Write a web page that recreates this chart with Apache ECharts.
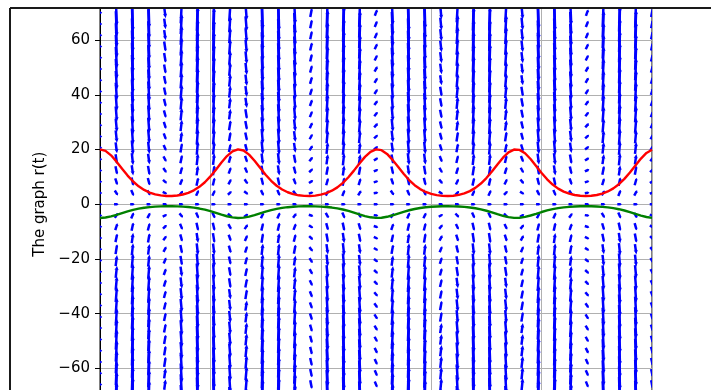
<!DOCTYPE html>
<html>
<head>
<meta charset="utf-8">
<script src="https://cdn.jsdelivr.net/npm/echarts@6/dist/echarts.min.js"></script>
<style>
	html, body { margin: 0; padding: 0; background: #ffffff; overflow: hidden; }
	#container { position: absolute; left: 0; top: -40px; width: 711px; height: 480px; }
</style>
</head>
<body>
<div id="container"></div>
<script>
// tiempo t y las dos curvas
var tiempo = [0, 0.25, 0.5, 0.75, 1, 1.25, 1.5, 1.75, 2, 2.25, 2.5, 2.75, 3, 3.25, 3.5, 3.75, 4, 4.25, 4.5, 4.75,
	5, 5.25, 5.5, 5.75, 6, 6.25, 6.5, 6.75, 7, 7.25, 7.5, 7.75, 8, 8.25, 8.5, 8.75, 9, 9.25, 9.5, 9.75,
	10, 10.25, 10.5, 10.75, 11, 11.25, 11.5, 11.75, 12, 12.25, 12.5, 12.75, 13, 13.25, 13.5, 13.75, 14, 14.25, 14.5, 14.75,
	15, 15.25, 15.5, 15.75, 16, 16.25, 16.5, 16.75, 17, 17.25, 17.5, 17.75, 18, 18.25, 18.5, 18.75, 19, 19.25, 19.5, 19.75,
	20, 20.25, 20.5, 20.75, 21, 21.25, 21.5, 21.75, 22, 22.25, 22.5, 22.75, 23, 23.25, 23.5, 23.75, 24, 24.25, 24.5, 24.75, 25];

var curvaRoja = [20.07, 19.48, 17.86, 15.55, 12.96, 10.46, 8.29, 6.54, 5.21, 4.26,
	3.61, 3.21, 3.02, 3.01, 3.18, 3.55, 4.16, 5.07, 6.34, 8.03,
	10.15, 12.61, 15.21, 17.59, 19.32, 20.06, 19.63, 18.13, 15.88, 13.32,
	10.77, 8.55, 6.74, 5.36, 4.37, 3.68, 3.25, 3.03, 3.00, 3.14,
	3.48, 4.06, 4.93, 6.15, 7.78, 9.84, 12.27, 14.87, 17.30, 19.14,
	20.03, 19.75, 18.38, 16.20, 13.65, 11.10, 8.82, 6.96, 5.53, 4.48,
	3.76, 3.30, 3.05, 2.99, 3.11, 3.43, 3.97, 4.79, 5.96, 7.54,
	9.55, 11.93, 14.52, 17.00, 18.95, 19.97, 19.85, 18.61, 16.52, 14.00,
	11.42, 9.10, 7.18, 5.69, 4.60, 3.84, 3.35, 3.07, 2.99, 3.09,
	3.37, 3.88, 4.66, 5.79, 7.30, 9.25, 11.60, 14.18, 16.69, 18.73, 19.90];

var curvaVerde = [-5.02, -4.87, -4.47, -3.89, -3.24, -2.62, -2.07, -1.64, -1.30, -1.07,
	-0.90, -0.80, -0.76, -0.75, -0.80, -0.89, -1.04, -1.27, -1.59, -2.01,
	-2.54, -3.15, -3.80, -4.40, -4.83, -5.02, -4.91, -4.53, -3.97, -3.33,
	-2.69, -2.14, -1.69, -1.34, -1.09, -0.92, -0.81, -0.76, -0.75, -0.79,
	-0.87, -1.02, -1.23, -1.54, -1.95, -2.46, -3.07, -3.72, -4.33, -4.79,
	-5.01, -4.94, -4.60, -4.05, -3.41, -2.78, -2.21, -1.74, -1.38, -1.12,
	-0.94, -0.83, -0.76, -0.75, -0.78, -0.86, -0.99, -1.20, -1.49, -1.89,
	-2.39, -2.98, -3.63, -4.25, -4.74, -4.99, -4.96, -4.65, -4.13, -3.50,
	-2.86, -2.28, -1.80, -1.42, -1.15, -0.96, -0.84, -0.77, -0.75, -0.77,
	-0.84, -0.97, -1.17, -1.45, -1.83, -2.31, -2.90, -3.55, -4.17, -4.68, -4.98];

// malla del campo de direcciones
var columnasT = [0, 0.74, 1.47, 2.21, 2.94, 3.68, 4.41, 5.15, 5.88, 6.62, 7.35, 8.09, 8.82, 9.56, 10.29, 11.03, 11.76,
	12.5, 13.24, 13.97, 14.71, 15.44, 16.18, 16.91, 17.65, 18.38, 19.12, 19.85, 20.59, 21.32, 22.06, 22.79, 23.53, 24.26, 25];

var filasR = [-70, -65.88, -61.76, -57.65, -53.53, -49.41, -45.29, -41.18, -37.06, -32.94, -28.82, -24.71, -20.59,
	-16.47, -12.35, -8.24, -4.12, 0, 4.12, 8.24, 12.35, 16.47, 20.59, 24.71, 28.82, 32.94, 37.06, 41.18, 45.29,
	49.41, 53.53, 57.65, 61.76, 65.88, 70];

// pendiente dr/dt por unidad de r en cada columna
var pendienteColumna = [0, -0.639, -0.947, -0.765, -0.189, 0.485, 0.909, 0.863, 0.371, -0.312, -0.835, -0.926,
	-0.539, 0.127, 0.727, 0.951, 0.684, 0.063, -0.590, -0.939, -0.802, -0.251, 0.430, 0.889, 0.888, 0.429,
	-0.252, -0.803, -0.939, -0.589, 0.064, 0.685, 0.951, 0.726, 0.126];

var dom = document.getElementById("container");
var myChart = echarts.init(dom, null, { renderer: 'canvas' });

var datosCampo = [];
columnasT.forEach((t, k) => {
	filasR.forEach((r) => {
		datosCampo.push([t, r, pendienteColumna[k] * r]);
	});
});

var datosRoja = tiempo.map((t, i) => [t, curvaRoja[i]]);
var datosVerde = tiempo.map((t, i) => [t, curvaVerde[i]]);

function dibujarFlecha(params, api) {
	var p = api.coord([api.value(0), api.value(1)]);
	var f = api.value(2);
	var ang = Math.atan(0.6 * f);
	var ux = Math.cos(ang), uy = -Math.sin(ang);
	var largo = 4.5 + 0.5 * Math.abs(f);
	var w = 2.5, hw = 4.2, hl = 4.5, ha = 4;
	var pts;
	if (largo >= 10) {
		pts = [[0, -w / 2], [largo - ha, -w / 2], [largo - hl, -hw / 2], [largo, 0],
			[largo - hl, hw / 2], [largo - ha, w / 2], [0, w / 2]];
	} else {
		// flechas cortas: un trazo corto
		pts = [[0, -w / 2], [largo - 1.5, -w / 2], [largo, 0], [largo - 1.5, w / 2], [0, w / 2]];
	}
	// pivote al centro
	var puntos = pts.map((a) => {
		var x = a[0] - largo / 2;
		return [p[0] + x * ux - a[1] * uy, p[1] + x * uy + a[1] * ux];
	});
	return {
		type: 'polygon',
		shape: { points: puntos },
		style: { fill: '#0000ff' }
	};
}

var option = {
	animation: false,
	backgroundColor: '#ffffff',
	grid: {
		left: 100,
		top: 25.3,
		width: 552,
		height: 437.8,
		show: true,
		borderColor: '#000000',
		borderWidth: 1,
		containLabel: false
	},
	xAxis: {
		type: 'value',
		min: 0,
		max: 25,
		interval: 5,
		axisLine: { show: false },
		axisTick: { show: false },
		axisLabel: { show: false },
		splitLine: { show: true, lineStyle: { color: '#b0b0b0', width: 1 } }
	},
	yAxis: {
		type: 'value',
		min: -80,
		max: 80,
		interval: 20,
		name: 'The graph r(t)',
		nameLocation: 'middle',
		nameGap: 52,
		nameTextStyle: { fontFamily: 'DejaVu Sans', fontSize: 15, color: '#000000' },
		axisLine: { show: true, lineStyle: { color: '#000000', width: 1 } },
		axisTick: { show: true, length: 5, lineStyle: { color: '#000000' } },
		axisLabel: {
			margin: 10,
			fontFamily: 'DejaVu Sans',
			fontSize: 15,
			color: '#000000',
			formatter: function (v) { return String(v).replace('-', '\u2212'); }
		},
		splitLine: { show: true, lineStyle: { color: '#b0b0b0', width: 1 } }
	},
	series: [
		{
			type: 'custom',
			name: 'campo',
			renderItem: dibujarFlecha,
			data: datosCampo,
			clip: true,
			z: 2
		},
		{
			type: 'line',
			name: 'roja',
			data: datosRoja,
			showSymbol: false,
			lineStyle: { color: '#ff0000', width: 2.4 },
			z: 3
		},
		{
			type: 'line',
			name: 'verde',
			data: datosVerde,
			showSymbol: false,
			lineStyle: { color: '#008000', width: 2.4 },
			z: 3
		}
	],
	graphic: [
		{ type: 'rect', shape: { x: 0, y: 0, width: 711, height: 48 }, style: { fill: '#ffffff' }, z: 100 },
		{ type: 'line', shape: { x1: 10, y1: 48, x2: 711, y2: 48 }, style: { stroke: '#1a1a1a', lineWidth: 2 }, z: 101 },
		{ type: 'line', shape: { x1: 10, y1: 48, x2: 10, y2: 480 }, style: { stroke: '#1a1a1a', lineWidth: 2 }, z: 101 }
	]
};

if (option && typeof option === "object") {
	myChart.setOption(option, true);
}
</script>
</body>
</html>
